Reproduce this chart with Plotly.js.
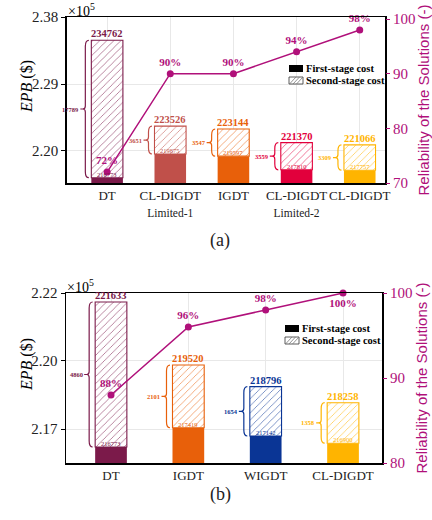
<!DOCTYPE html>
<html><head><meta charset="utf-8">
<script src="https://cdn.plot.ly/plotly-3.0.1.min.js"></script>
<style>html,body{margin:0;padding:0;background:#fff;} #chart{width:432px;height:520px;}</style>
</head><body><div id="chart"></div>
<script>
// ---------- data: panel (a)
const catsA = ['DT', 'CL-DIGDT', 'IGDT', 'CL-DIGDT', 'CL-DIGDT'];
const subA = ['', 'Limited-1', '', 'Limited-2', ''];
const firstA = [216773, 219875, 219597, 217810, 217757];
const totalA = [234762, 223526, 223144, 221370, 221066];
const secondA = [17789, 3651, 3547, 3559, 3309];
const relA = [72, 90, 90, 94, 98];
const yTickValsA = [220270, 229040, 237810];
const yTickTextA = ['2.20', '2.29', '2.38'];
const relTicksA = [70, 80, 90, 100];

// ---------- data: panel (b)
const catsB = ['DT', 'IGDT', 'WIGDT', 'CL-DIGDT'];
const firstB = [216773, 217419, 217142, 216900];
const totalB = [221633, 219520, 218796, 218258];
const secondB = [4860, 2101, 1654, 1358];
const relB = [88, 96, 98, 100];
const yTickValsB = [217376, 219656, 221935];
const yTickTextB = ['2.17', '2.20', '2.22'];
const relTicksB = [80, 90, 100];

const legendLabels = ['First-stage cost', 'Second-stage cost'];

// ---------- styles
const colorsA = ['#7B1A4A', '#C0504A', '#E8600A', '#E2003C', '#FFB400'];
const colorsB = ['#7B1A4A', '#E8600A', '#0A3595', '#FFB400'];
const MAG = '#B0107A';
const SERIF = 'Liberation Serif, Times New Roman, serif';
const SANS = 'Liberation Sans, Arial, sans-serif';
const W = 432, H = 520;
const G = {
  a: {l: 66.7, r: 385, t: 17, b: 183, xr: [-0.64, 4.4], yr: [216080, 237810], y2r: [70, 100.37], bw: 0.5,
      xa: 'x', ya: 'y', ya2: 'y2', leg: {x: 289, y: 65}},
  b: {l: 66, r: 382, t: 293, b: 463, xr: [-0.582, 3.504], yr: [216237, 221935], y2r: [80, 100], bw: 0.41,
      xa: 'x2', ya: 'y3', ya2: 'y4', leg: {x: 285, y: 325}}
};
const px = v => v / W, py = v => 1 - v / H;

const traces = [], shapes = [], annotations = [];

function panel(key, cats, first, total, second, rel, colors, textpos) {
  const g = G[key];
  const idx = cats.map((_, i) => i);
  const ux = (g.xr[1] - g.xr[0]) / (g.r - g.l);
  const uy = (g.yr[1] - g.yr[0]) / (g.b - g.t);
  traces.push({type: 'bar', x: idx, y: first, width: g.bw, xaxis: g.xa, yaxis: g.ya,
    marker: {color: colors, line: {width: 0}}, showlegend: false, hoverinfo: 'skip'});
  traces.push({type: 'bar', x: idx, y: total.map((t, i) => t - first[i]), base: first, width: g.bw,
    xaxis: g.xa, yaxis: g.ya, showlegend: false, hoverinfo: 'skip',
    marker: {color: 'white', line: {color: colors, width: 1.1},
      pattern: {shape: '/', fgcolor: colors, bgcolor: 'white', size: 5, solidity: 0.14, fgopacity: 0.75}}});
  traces.push({type: 'scatter', x: idx, y: rel, xaxis: g.xa, yaxis: g.ya2, mode: 'lines+markers+text',
    line: {color: MAG, width: 1.5}, marker: {color: MAG, size: 7},
    text: rel.map(v => v + '%'), textposition: textpos, cliponaxis: false,
    textfont: {family: SERIF, size: 11, color: MAG, weight: 'bold'}, showlegend: false, hoverinfo: 'skip'});

  idx.forEach(i => {
    const c = colors[i];
    const left = i - g.bw / 2;
    const hi = total[i], lo = first[i], ym = (hi + lo) / 2;
    const xr = left - 2.5 * ux, xv = left - 6 * ux, xt = left - 8.5 * ux;
    const r = 6 * uy, rm = 3 * uy;
    const path = `M${xr},${hi} Q${xv},${hi} ${xv},${hi - r} L${xv},${ym + rm} Q${xv},${ym} ${xt},${ym} ` +
      `Q${xv},${ym} ${xv},${ym - rm} L${xv},${lo + r} Q${xv},${lo} ${xr},${lo} M${xt},${ym} L${xt - 2.5 * ux},${ym}`;
    shapes.push({type: 'path', xref: g.xa, yref: g.ya, path: path, line: {color: c, width: 1.2}});
    annotations.push({xref: g.xa, yref: g.ya, x: i, y: hi, yanchor: 'bottom', showarrow: false, yshift: -1,
      text: String(hi), font: {family: SERIF, size: 10.5, color: c, weight: 'bold'}});
    annotations.push({xref: g.xa, yref: g.ya, x: i, y: lo, yanchor: 'bottom', showarrow: false, yshift: -2,
      text: String(lo), font: {family: SERIF, size: 6.5, color: c}});
    annotations.push({xref: g.xa, yref: g.ya, x: xt - 2.5 * ux, y: ym, xanchor: 'right', yanchor: 'middle',
      showarrow: false, xshift: 1, text: String(second[i]), font: {family: SERIF, size: 6.5, color: c, weight: 'bold'}});
  });

  // legend (manual)
  const lx = g.leg.x, ly = g.leg.y;
  shapes.push({type: 'rect', xref: 'paper', yref: 'paper', x0: px(lx), x1: px(lx + 14), y0: py(ly), y1: py(ly + 7),
    fillcolor: 'black', line: {width: 0}});
  shapes.push({type: 'rect', xref: 'paper', yref: 'paper', x0: px(lx), x1: px(lx + 14), y0: py(ly + 12), y1: py(ly + 19),
    fillcolor: 'white', line: {color: '#333', width: 0.8}});
  [0.5, 4, 7.5].forEach(k => shapes.push({type: 'line', xref: 'paper', yref: 'paper',
    x0: px(lx + k), y0: py(ly + 19), x1: px(lx + k + 6.5), y1: py(ly + 12), line: {color: '#777', width: 0.8}}));
  legendLabels.forEach((t, j) => annotations.push({xref: 'paper', yref: 'paper', x: px(lx + 15), y: py(ly + 3.5 + 12 * j),
    xanchor: 'left', yanchor: 'middle', showarrow: false, text: t, font: {family: SERIF, size: 10.5, color: 'black', weight: 'bold'}}));

  // ×10^5 and left axis title
  annotations.push({xref: 'paper', yref: 'paper', x: px(g.l - 1), y: py(g.t), xanchor: 'left', yanchor: 'bottom', yshift: -4,
    showarrow: false, text: '×10<sup>5</sup>', font: {family: SERIF, size: 14, color: 'black'}});
  annotations.push({xref: 'paper', yref: 'paper', x: px(27), y: py((g.t + g.b) / 2 - 13), xanchor: 'center', yanchor: 'middle',
    textangle: -90, showarrow: false, text: '<i>EPB</i> ($)', font: {family: SERIF, size: 16, color: 'black'}});
}

panel('a', catsA, firstA, totalA, secondA, relA, colorsA, 'top center');
panel('b', catsB, firstB, totalB, secondB, relB, colorsB, ['top center', 'top center', 'top center', 'bottom center']);

annotations.push({xref: 'paper', yref: 'paper', x: px(220), y: py(240), showarrow: false, text: '(a)',
  font: {family: SERIF, size: 18, color: '#222'}});
annotations.push({xref: 'paper', yref: 'paper', x: px(220), y: py(507), showarrow: false, text: '(b)',
  font: {family: SERIF, size: 18, color: '#222'}});

function xAxis(g, labels, anchor) {
  return {domain: [px(g.l), px(g.r)], range: g.xr, anchor: anchor, tickvals: labels.map((_, i) => i), ticktext: labels,
    showgrid: true, gridcolor: '#e8e8e8', zeroline: false, showline: true, mirror: true, linecolor: 'black', linewidth: 1.5,
    ticks: '', tickangle: 0, tickfont: {family: SERIF, size: 13, color: '#222'}, fixedrange: true};
}
function yAxis(g, tv, tt, anchor) {
  return {domain: [py(g.b), py(g.t)], range: g.yr, anchor: anchor, tickvals: tv, ticktext: tt,
    showgrid: true, gridcolor: '#e8e8e8', zeroline: false, showline: true, mirror: true, linecolor: 'black', linewidth: 1.5,
    ticks: 'outside', ticklen: 4, tickcolor: 'black', tickfont: {family: SERIF, size: 15, color: '#222'}};
}
function y2Axis(g, tv, over, anchor) {
  return {overlaying: over, side: 'right', anchor: anchor, range: g.y2r, tickvals: tv, showgrid: false, zeroline: false,
    showline: false, ticks: 'outside', ticklen: 4, tickcolor: MAG, tickfont: {family: SERIF, size: 15, color: MAG},
    title: {text: 'Reliability of the Solutions (-)', font: {family: SANS, size: 15, color: MAG}, standoff: 4}};
}

const labelsA = catsA.map((c, i) => subA[i] ? c + '<br><span style="font-size:11.5px">' + subA[i] + '</span>' : c);

const layout = {
  width: W, height: H, margin: {l: 0, r: 0, t: 0, b: 0}, paper_bgcolor: 'white', plot_bgcolor: 'white',
  barmode: 'overlay', showlegend: false,
  xaxis: xAxis(G.a, labelsA, 'y'), yaxis: yAxis(G.a, yTickValsA, yTickTextA, 'x'), yaxis2: y2Axis(G.a, relTicksA, 'y', 'x'),
  xaxis2: xAxis(G.b, catsB, 'y3'), yaxis3: yAxis(G.b, yTickValsB, yTickTextB, 'x2'), yaxis4: y2Axis(G.b, relTicksB, 'y3', 'x2'),
  shapes: shapes, annotations: annotations
};
Plotly.newPlot('chart', traces, layout, {displayModeBar: false, staticPlot: true});
</script></body></html>
